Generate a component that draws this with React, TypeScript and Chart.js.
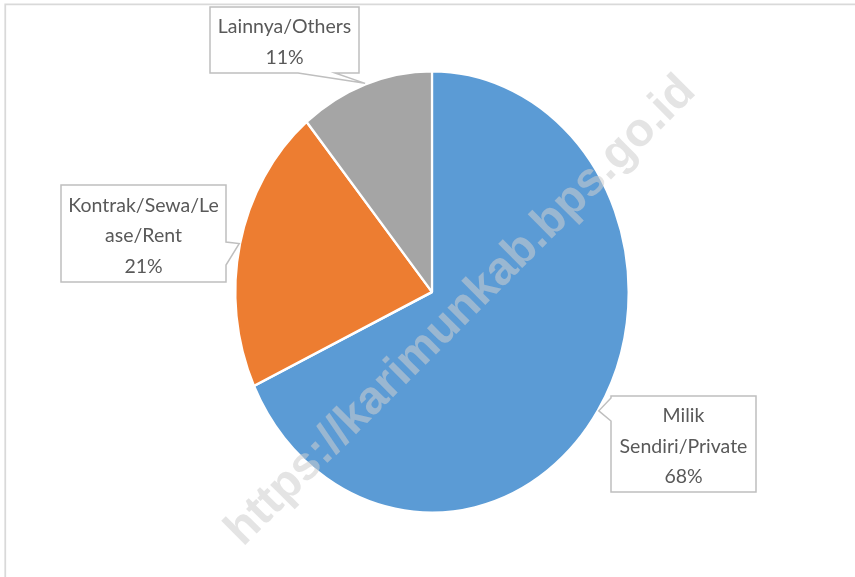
import React, { useEffect, useRef } from "react";
import { Chart, registerables } from "chart.js";

Chart.register(...registerables);

const categories = ["Milik Sendiri/Private", "Kontrak/Sewa/Lease/Rent", "Lainnya/Others"];
const labelLines = [["Milik", "Sendiri/Private"], ["Kontrak/Sewa/Le", "ase/Rent"], ["Lainnya/Others"]];
const percentages = [68, 21, 11];
const sliceColors = ["#5B9BD5", "#ED7D31", "#A5A5A5"];
const watermarkText = "https://karimunkab.bps.go.id";

const W = 855;
const H = 577;
const ELLIPSE_X = 196 / 220;
const FONT = '19.5px Lato, "Open Sans", sans-serif';
const LINE_H = 30.5;

// callout boxes: x, y, w, h and pointer side / base offsets along that side
const boxes = [
  { x: 611, y: 396, w: 145, h: 96, side: "left", b0: 2, b1: 25 },
  { x: 61, y: 185, w: 165, h: 97, side: "right", b0: 57, b1: 80 },
  { x: 210, y: 7, w: 149, h: 66, side: "bottom", b0: 88, b1: 125 },
];

const customPlugin = {
  id: "customDraw",
  beforeDraw(chart: any) {
    const ctx = chart.ctx;
    ctx.save();
    ctx.fillStyle = "#ffffff";
    ctx.fillRect(0, 0, W, H);
    ctx.strokeStyle = "#d9d9d9";
    ctx.lineWidth = 1.75;
    ctx.beginPath();
    ctx.moveTo(5.25, H + 10);
    ctx.lineTo(5.25, 4.25);
    ctx.lineTo(W + 10, 4.25);
    ctx.stroke();
    ctx.restore();
  },
  beforeDatasetsDraw(chart: any) {
    const ctx = chart.ctx;
    const arc = chart.getDatasetMeta(0).data[0];
    ctx.save();
    ctx.translate(arc.x, arc.y);
    ctx.scale(ELLIPSE_X, 1);
    ctx.translate(-arc.x, -arc.y);
  },
  afterDatasetsDraw(chart: any) {
    chart.ctx.restore();
  },
  afterDraw(chart: any) {
    const ctx = chart.ctx;
    const meta = chart.getDatasetMeta(0);
    meta.data.forEach((arc: any, i: number) => {
      const mid = (arc.startAngle + arc.endAngle) / 2;
      const r = arc.outerRadius + 1;
      const tipX = arc.x + Math.cos(mid) * r * ELLIPSE_X;
      const tipY = arc.y + Math.sin(mid) * r;
      const b = boxes[i];
      ctx.save();
      ctx.beginPath();
      const L = b.x, T = b.y, R = b.x + b.w, B = b.y + b.h;
      ctx.moveTo(L, T);
      ctx.lineTo(R, T);
      if (b.side === "right") {
        ctx.lineTo(R, T + b.b0);
        ctx.lineTo(tipX, tipY);
        ctx.lineTo(R, T + b.b1);
      }
      ctx.lineTo(R, B);
      if (b.side === "bottom") {
        ctx.lineTo(L + b.b1, B);
        ctx.lineTo(tipX, tipY);
        ctx.lineTo(L + b.b0, B);
      }
      ctx.lineTo(L, B);
      if (b.side === "left") {
        ctx.lineTo(L, T + b.b1);
        ctx.lineTo(tipX, tipY);
        ctx.lineTo(L, T + b.b0);
      }
      ctx.closePath();
      ctx.fillStyle = "#ffffff";
      ctx.fill();
      ctx.strokeStyle = "#bfbfbf";
      ctx.lineWidth = 1.5;
      ctx.stroke();
      const lines = [...labelLines[i], percentages[i] + "%"];
      ctx.fillStyle = "#595959";
      ctx.font = FONT;
      ctx.textAlign = "center";
      ctx.textBaseline = "alphabetic";
      const cx = b.x + b.w / 2;
      const firstBase = b.y + b.h / 2 - ((lines.length - 1) / 2) * LINE_H + 8.5;
      lines.forEach((t, k) => ctx.fillText(t, cx, firstBase + k * LINE_H));
      ctx.restore();
    });

    // watermark
    ctx.save();
    ctx.translate(461, 311);
    ctx.rotate((-45 * Math.PI) / 180);
    ctx.font = 'bold 47px "Liberation Sans", Arial, sans-serif';
    ctx.textAlign = "center";
    ctx.textBaseline = "middle";
    ctx.fillStyle = "rgba(205,205,205,0.55)";
    ctx.fillText(watermarkText, 0, 0);
    ctx.restore();
  },
};

export default function App() {
  const ref = useRef<HTMLCanvasElement | null>(null);
  useEffect(() => {
    if (!ref.current) return;
    const chart = new Chart(ref.current, {
      type: "pie",
      data: {
        labels: categories,
        datasets: [
          {
            data: percentages,
            backgroundColor: sliceColors,
            borderColor: "#ffffff",
            borderWidth: 2.5,
            hoverOffset: 0,
            offset: 0,
          },
        ],
      },
      options: {
        responsive: false,
        maintainAspectRatio: false,
        animation: false,
        devicePixelRatio: 1,
        layout: { padding: { left: 210, right: 201, top: 70, bottom: 63 } },
        plugins: { legend: { display: false }, tooltip: { enabled: false } },
      },
      plugins: [customPlugin],
    } as any);
    return () => chart.destroy();
  }, []);
  return (
    <div style={{ position: "fixed", left: 0, top: 0, width: W, height: H, background: "#fff" }}>
      <canvas ref={ref} width={W} height={H} style={{ width: W, height: H, display: "block" }} />
    </div>
  );
}
